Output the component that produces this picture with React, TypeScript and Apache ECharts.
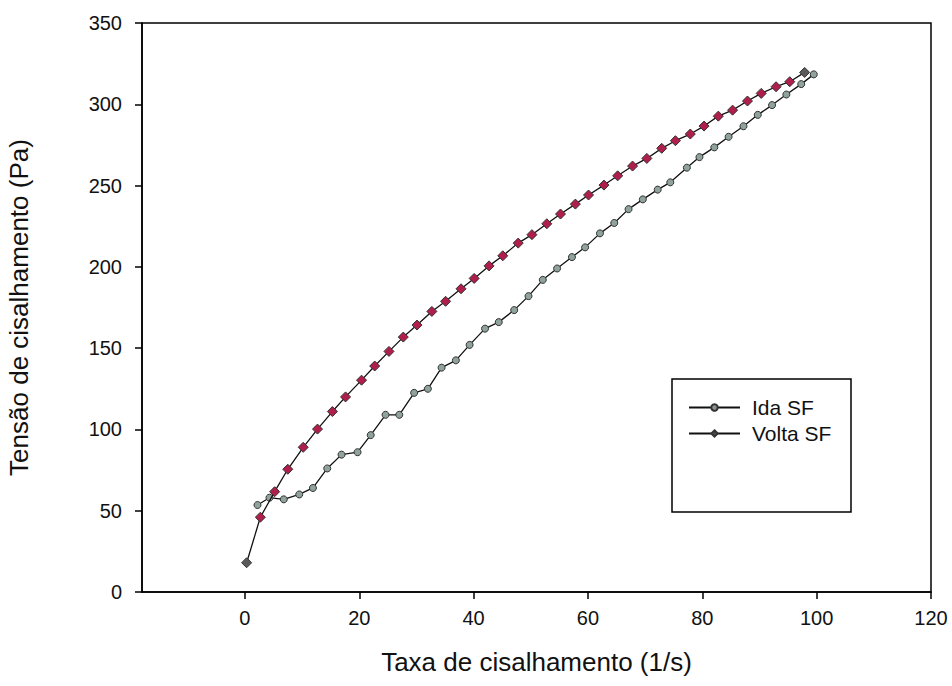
import React, { useEffect, useRef } from "react";
import * as echarts from "echarts";

const idaX = [2.2, 4.3, 6.8, 9.5, 11.9, 14.4, 16.9, 19.7, 22.0, 24.6, 27.0, 29.6, 32.0, 34.4, 36.9, 39.3, 42.0, 44.4, 47.1, 49.6, 52.1, 54.6, 57.2, 59.5, 62.1, 64.6, 67.1, 69.6, 72.2, 74.4, 77.3, 79.5, 82.1, 84.6, 87.2, 89.7, 92.2, 94.7, 97.3, 99.5];
const idaY = [53.5, 58, 57, 60, 64, 76, 84.5, 86, 96.5, 109, 109, 122.5, 125, 138, 142.5, 152, 162, 166, 173.4, 182, 192, 199, 206, 212, 220.6, 227, 235.5, 241.5, 247.5, 252, 261, 267.5, 273.5, 280, 286.5, 293.5, 299.5, 306, 312.4, 318.4];

const voltaX = [0.3, 2.7, 5.2, 7.5, 10.2, 12.7, 15.3, 17.6, 20.4, 22.7, 25.2, 27.7, 30.1, 32.7, 35.1, 37.8, 40.1, 42.7, 45.1, 47.8, 50.2, 52.8, 55.2, 57.8, 60.1, 62.8, 65.2, 67.8, 70.3, 72.9, 75.3, 77.9, 80.3, 82.8, 85.3, 87.9, 90.3, 92.9, 95.3, 97.9];
const voltaY = [18, 46, 61.7, 75.5, 89, 100.2, 111, 120, 130.3, 139, 148, 156.8, 164.2, 172.6, 178.8, 186.5, 192.9, 200.6, 206.8, 214.6, 219.8, 226.5, 232.5, 238.6, 244.2, 250.3, 256, 262, 266.7, 272.9, 277.6, 281.7, 286.6, 292.7, 296.4, 302, 306.7, 310.8, 313.9, 319.6];

const xTicks = [0, 20, 40, 60, 80, 100, 120];
const seriesNames = ["Ida SF", "Volta SF"];
const xTitle = "Taxa de cisalhamento (1/s)";
const yTitle = "Tensão de cisalhamento (Pa)";

const FONT = "Liberation Sans, Arial, sans-serif";

export default function App() {
  const ref = useRef<HTMLDivElement>(null);
  useEffect(() => {
    if (!ref.current) return;
    const chart = echarts.init(ref.current, null, { renderer: "svg" });
    const idaData = idaX.map((x, i) => [x, idaY[i]]);
    const voltaData = voltaX.map((x, i) => {
      const edge = i === 0 || i === voltaX.length - 1;
      return edge
        ? { value: [x, voltaY[i]], itemStyle: { color: "#5a5a5a" } }
        : { value: [x, voltaY[i]] };
    });
    chart.setOption({
      animation: false,
      backgroundColor: "#ffffff",
      textStyle: { fontFamily: FONT },
      grid: {
        left: 142,
        top: 23,
        right: 21,
        bottom: 94,
        containLabel: false,
        outerBoundsMode: "none",
        show: true,
        borderColor: "#000",
        borderWidth: 1.5,
        backgroundColor: "transparent",
      },
      xAxis: {
        type: "value",
        min: -18,
        max: 120,
        name: xTitle,
        nameLocation: "middle",
        nameGap: 57,
        nameTextStyle: { fontSize: 26, color: "#111", fontFamily: FONT },
        axisLine: { show: true, onZero: false, lineStyle: { color: "#000", width: 1.5 } },
        axisTick: { show: true, inside: false, length: 7, customValues: xTicks, lineStyle: { color: "#000", width: 1.5 } },
        axisLabel: { customValues: xTicks, margin: 16, fontSize: 20, color: "#111", fontFamily: FONT },
        splitLine: { show: false },
      },
      yAxis: {
        type: "value",
        min: 0,
        max: 350,
        interval: 50,
        name: yTitle,
        nameLocation: "middle",
        nameGap: 110,
        nameTextStyle: { fontSize: 26, color: "#111", fontFamily: FONT },
        axisLine: { show: true, onZero: false, lineStyle: { color: "#000", width: 1.5 } },
        axisTick: { show: true, inside: false, length: 7, lineStyle: { color: "#000", width: 1.5 } },
        axisLabel: { margin: 20, fontSize: 20, color: "#111", fontFamily: FONT },
        splitLine: { show: false },
      },
      legend: {
        show: true,
        orient: "vertical",
        left: 688,
        top: 397,
        padding: 0,
        itemWidth: 51,
        itemHeight: 8,
        itemGap: 5,
        textStyle: { fontSize: 21, color: "#111", fontFamily: FONT, padding: [0, 0, 0, 7] },
        data: [
          { name: seriesNames[0], itemStyle: { color: "#8a948f" } },
          { name: seriesNames[1], itemStyle: { color: "#4a4a4a" } },
        ],
      },
      graphic: [
        {
          type: "rect",
          shape: { x: 672, y: 379, width: 179, height: 133 },
          style: { fill: "none", stroke: "#000", lineWidth: 1.5 },
          z: 10,
        },
      ],
      series: [
        {
          name: seriesNames[0],
          type: "line",
          data: idaData,
          symbol: "circle",
          symbolSize: 7,
          lineStyle: { color: "#111", width: 1.3 },
          itemStyle: { color: "#8fa39a", borderColor: "#333", borderWidth: 1 },
          z: 3,
        },
        {
          name: seriesNames[1],
          type: "line",
          data: voltaData,
          symbol: "diamond",
          symbolSize: 10,
          lineStyle: { color: "#111", width: 1.3 },
          itemStyle: { color: "#b01e4c", borderColor: "#333", borderWidth: 1 },
          z: 4,
        },
      ],
    });
    return () => chart.dispose();
  }, []);
  return <div ref={ref} style={{ width: 952, height: 686, position: "absolute", left: 0, top: 0 }} />;
}
